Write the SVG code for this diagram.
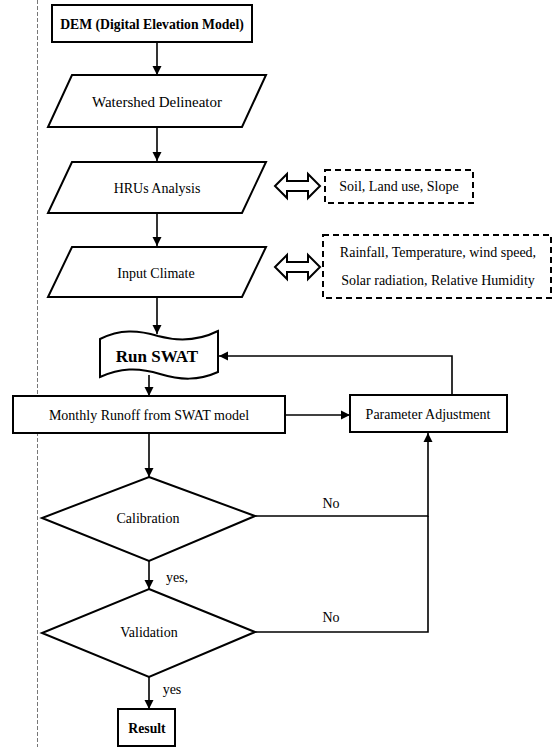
<svg xmlns="http://www.w3.org/2000/svg" width="553" height="747" viewBox="0 0 553 747">
<style>
  .node { fill: #ffffff; stroke: #000; stroke-width: 2; }
  .dash { fill: #ffffff; stroke: #000; stroke-width: 2; stroke-dasharray: 6 4; }
  .conn { fill: none; stroke: #000; stroke-width: 1.6; }
  .dbl { fill: #ffffff; stroke: #000; stroke-width: 2; stroke-linejoin: miter; }
  text { font-family: "Liberation Serif", "Times New Roman", serif; fill: #000; text-anchor: middle; dominant-baseline: central; }
  .t { font-size: 14px; }
  .b { font-size: 13.7px; font-weight: bold; }
  .big { font-size: 17px; font-weight: bold; }
</style>
<defs>
  <marker id="ah" markerWidth="10" markerHeight="10" refX="9" refY="5" orient="auto" markerUnits="userSpaceOnUse">
    <path d="M0,0.5 L9,5 L0,9.5 Z" fill="#000"/>
  </marker>
</defs>
<rect width="553" height="747" fill="#ffffff"/>
<line x1="37.5" y1="0" x2="37.5" y2="747" stroke="#777" stroke-width="1" stroke-dasharray="4 2"/>

<g id="connectors">
  <line class="conn" x1="157" y1="42" x2="157" y2="75" marker-end="url(#ah)"/>
  <line class="conn" x1="157" y1="127" x2="157" y2="161" marker-end="url(#ah)"/>
  <line class="conn" x1="157" y1="213" x2="157" y2="246" marker-end="url(#ah)"/>
  <line class="conn" x1="157" y1="297" x2="157" y2="334" marker-end="url(#ah)"/>
  <line class="conn" x1="149" y1="375" x2="149" y2="396" marker-end="url(#ah)"/>
  <line class="conn" x1="285" y1="415" x2="350" y2="415" marker-end="url(#ah)"/>
  <polyline class="conn" points="452,395 452,356 219,356" marker-end="url(#ah)"/>
  <line class="conn" x1="149" y1="433" x2="149" y2="477" marker-end="url(#ah)"/>
  <polyline class="conn" points="255,516 428,516 428,433" marker-end="url(#ah)"/>
  <line class="conn" x1="149" y1="561" x2="149" y2="589" marker-end="url(#ah)"/>
  <polyline class="conn" points="255,632 428,632 428,516"/>
  <line class="conn" x1="149" y1="677" x2="149" y2="709" marker-end="url(#ah)"/>
  <text class="t" x="331" y="503">No</text>
  <text class="t" x="331" y="617">No</text>
  <text class="t" x="177" y="577">yes,</text>
  <text class="t" x="172" y="689">yes</text>
  <polygon class="dbl" points="275,186 287,174 287,181 308,181 308,174 320,186 308,198 308,191 287,191 287,198"/>
  <polygon class="dbl" points="275,267 287,255 287,262 308,262 308,255 320,267 308,279 308,272 287,272 287,279"/>
</g>

<g id="dem">
  <rect class="node" x="52" y="5" width="200" height="37"/>
  <text class="b" x="152" y="24">DEM (Digital Elevation Model)</text>
</g>
<g id="watershed">
  <polygon class="node" points="72,75 266,75 242,127 48,127"/>
  <text class="t" x="157" y="102" style="font-size:15px">Watershed Delineator</text>
</g>
<g id="hrus">
  <polygon class="node" points="72,162 266,162 242,213 48,213"/>
  <text class="t" x="157" y="188">HRUs Analysis</text>
</g>
<g id="climate">
  <polygon class="node" points="72,247 266,247 242,297 48,297"/>
  <text class="t" x="156" y="273">Input Climate</text>
</g>
<g id="soil">
  <rect class="dash" x="325" y="170" width="148" height="33"/>
  <text class="t" x="399" y="186">Soil, Land use, Slope</text>
</g>
<g id="climatedata">
  <rect class="dash" x="323" y="235" width="228" height="63"/>
  <text class="t" x="438" y="252">Rainfall, Temperature, wind speed,</text>
  <text class="t" x="438" y="280">Solar radiation, Relative Humidity</text>
</g>
<g id="runswat">
  <path class="node" d="M100,339 C120,329 138,330 158,336 C180,342 200,340 218,331 L218,372 C198,381 180,380 160,374 C138,367 120,368 100,377 Z" fill="#f4f4f4"/>
  <text class="big" x="157" y="356">Run SWAT</text>
</g>
<g id="monthly">
  <rect class="node" x="13" y="396" width="272" height="37"/>
  <text class="t" x="149" y="415">Monthly Runoff from SWAT model</text>
</g>
<g id="param">
  <rect class="node" x="350" y="395" width="157" height="37"/>
  <text class="t" x="428" y="414">Parameter Adjustment</text>
</g>
<g id="calibration">
  <polygon class="node" points="149,477 255,516 149,561 42,518"/>
  <text class="t" x="148" y="518">Calibration</text>
</g>
<g id="validation">
  <polygon class="node" points="149,589 255,632 149,677 42,633"/>
  <text class="t" x="149" y="632">Validation</text>
</g>
<g id="result">
  <rect class="node" x="118" y="709" width="57" height="37"/>
  <text class="b" x="147" y="728">Result</text>
</g>
</svg>
